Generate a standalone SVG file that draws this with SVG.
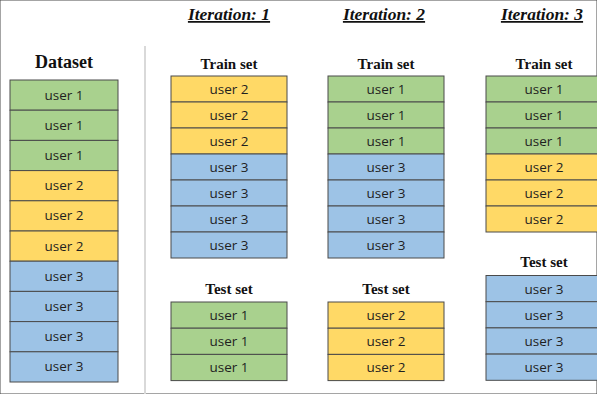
<svg xmlns="http://www.w3.org/2000/svg" width="597" height="394" viewBox="0 0 597 394">
  <style>
    .u1 { fill: #A9D18E; }
    .u2 { fill: #FFD966; }
    .u3 { fill: #9DC3E6; }
    rect { stroke: #4a4a4a; stroke-width: 1; }
    .lbl { font-family: "Open Sans", "Liberation Sans", sans-serif; font-size: 13.5px; fill: #1f1f1f; text-anchor: middle; }
    .head { font-family: "Liberation Serif", "Times New Roman", serif; font-weight: bold; font-size: 15px; fill: #111; text-anchor: middle; }
    .big { font-size: 18px; }
    .iter { font-family: "Liberation Serif", "Times New Roman", serif; font-weight: bold; font-style: italic; font-size: 17.5px; fill: #111; text-anchor: middle; text-decoration: underline; }
  </style>
  <rect x="0" y="0" width="597" height="394" fill="#ffffff" stroke="none"/>

  <!-- divider between the full dataset and the iterations -->
  <line x1="145" y1="46" x2="145" y2="394" stroke="#d9d9d9" stroke-width="2"/>

  <!-- iteration headings -->
  <text class="iter" x="229" y="20">Iteration: 1</text>
  <text class="iter" x="384" y="20">Iteration: 2</text>
  <text class="iter" x="542" y="20">Iteration: 3</text>

  <!-- full dataset -->
  <g id="dataset">
    <text class="head big" x="64" y="68">Dataset</text>
    <rect class="u1" x="10" y="80" width="108" height="30.2"/>
    <rect class="u1" x="10" y="110.2" width="108" height="30.2"/>
    <rect class="u1" x="10" y="140.4" width="108" height="30.2"/>
    <rect class="u2" x="10" y="170.6" width="108" height="30.2"/>
    <rect class="u2" x="10" y="200.8" width="108" height="30.2"/>
    <rect class="u2" x="10" y="231" width="108" height="30.2"/>
    <rect class="u3" x="10" y="261.2" width="108" height="30.2"/>
    <rect class="u3" x="10" y="291.4" width="108" height="30.2"/>
    <rect class="u3" x="10" y="321.6" width="108" height="30.2"/>
    <rect class="u3" x="10" y="351.8" width="108" height="30.2"/>
    <text class="lbl" x="64" y="99.6">user 1</text>
    <text class="lbl" x="64" y="129.8">user 1</text>
    <text class="lbl" x="64" y="160">user 1</text>
    <text class="lbl" x="64" y="190.2">user 2</text>
    <text class="lbl" x="64" y="220.4">user 2</text>
    <text class="lbl" x="64" y="250.6">user 2</text>
    <text class="lbl" x="64" y="280.8">user 3</text>
    <text class="lbl" x="64" y="311">user 3</text>
    <text class="lbl" x="64" y="341.2">user 3</text>
    <text class="lbl" x="64" y="371.4">user 3</text>
  </g>

  <!-- iteration 1: train on users 2 and 3, test on user 1 -->
  <g id="iter1-train">
    <text class="head" x="229" y="68.5">Train set</text>
    <rect class="u2" x="171" y="76" width="116" height="26"/>
    <rect class="u2" x="171" y="102" width="116" height="26"/>
    <rect class="u2" x="171" y="128" width="116" height="26"/>
    <rect class="u3" x="171" y="154" width="116" height="26"/>
    <rect class="u3" x="171" y="180" width="116" height="26"/>
    <rect class="u3" x="171" y="206" width="116" height="26"/>
    <rect class="u3" x="171" y="232" width="116" height="26"/>
    <text class="lbl" x="229" y="94">user 2</text>
    <text class="lbl" x="229" y="120">user 2</text>
    <text class="lbl" x="229" y="146">user 2</text>
    <text class="lbl" x="229" y="172">user 3</text>
    <text class="lbl" x="229" y="198">user 3</text>
    <text class="lbl" x="229" y="224">user 3</text>
    <text class="lbl" x="229" y="250">user 3</text>
  </g>
  <g id="iter1-test">
    <text class="head" x="229" y="293.5">Test set</text>
    <rect class="u1" x="171" y="302" width="116" height="26.2"/>
    <rect class="u1" x="171" y="328.2" width="116" height="26.2"/>
    <rect class="u1" x="171" y="354.4" width="116" height="26.2"/>
    <text class="lbl" x="229" y="320">user 1</text>
    <text class="lbl" x="229" y="346.2">user 1</text>
    <text class="lbl" x="229" y="372.4">user 1</text>
  </g>

  <!-- iteration 2: train on users 1 and 3, test on user 2 -->
  <g id="iter2-train">
    <text class="head" x="386" y="68.5">Train set</text>
    <rect class="u1" x="328" y="76" width="116" height="26"/>
    <rect class="u1" x="328" y="102" width="116" height="26"/>
    <rect class="u1" x="328" y="128" width="116" height="26"/>
    <rect class="u3" x="328" y="154" width="116" height="26"/>
    <rect class="u3" x="328" y="180" width="116" height="26"/>
    <rect class="u3" x="328" y="206" width="116" height="26"/>
    <rect class="u3" x="328" y="232" width="116" height="26"/>
    <text class="lbl" x="386" y="94">user 1</text>
    <text class="lbl" x="386" y="120">user 1</text>
    <text class="lbl" x="386" y="146">user 1</text>
    <text class="lbl" x="386" y="172">user 3</text>
    <text class="lbl" x="386" y="198">user 3</text>
    <text class="lbl" x="386" y="224">user 3</text>
    <text class="lbl" x="386" y="250">user 3</text>
  </g>
  <g id="iter2-test">
    <text class="head" x="386" y="293.5">Test set</text>
    <rect class="u2" x="328" y="302" width="116" height="26.2"/>
    <rect class="u2" x="328" y="328.2" width="116" height="26.2"/>
    <rect class="u2" x="328" y="354.4" width="116" height="26.2"/>
    <text class="lbl" x="386" y="320">user 2</text>
    <text class="lbl" x="386" y="346.2">user 2</text>
    <text class="lbl" x="386" y="372.4">user 2</text>
  </g>

  <!-- iteration 3: train on users 1 and 2, test on user 3 -->
  <g id="iter3-train">
    <text class="head" x="544" y="68.5">Train set</text>
    <rect class="u1" x="486" y="76" width="116" height="26"/>
    <rect class="u1" x="486" y="102" width="116" height="26"/>
    <rect class="u1" x="486" y="128" width="116" height="26"/>
    <rect class="u2" x="486" y="154" width="116" height="26"/>
    <rect class="u2" x="486" y="180" width="116" height="26"/>
    <rect class="u2" x="486" y="206" width="116" height="26"/>
    <text class="lbl" x="544" y="94">user 1</text>
    <text class="lbl" x="544" y="120">user 1</text>
    <text class="lbl" x="544" y="146">user 1</text>
    <text class="lbl" x="544" y="172">user 2</text>
    <text class="lbl" x="544" y="198">user 2</text>
    <text class="lbl" x="544" y="224">user 2</text>
  </g>
  <g id="iter3-test">
    <text class="head" x="544" y="267">Test set</text>
    <rect class="u3" x="486" y="275.5" width="116" height="26.2"/>
    <rect class="u3" x="486" y="301.7" width="116" height="26.2"/>
    <rect class="u3" x="486" y="327.9" width="116" height="26.2"/>
    <rect class="u3" x="486" y="354.1" width="116" height="26.2"/>
    <text class="lbl" x="544" y="293.5">user 3</text>
    <text class="lbl" x="544" y="319.7">user 3</text>
    <text class="lbl" x="544" y="345.9">user 3</text>
    <text class="lbl" x="544" y="372.1">user 3</text>
  </g>

  <!-- no connectors in this figure -->
  <g id="connectors"/>
</svg>
